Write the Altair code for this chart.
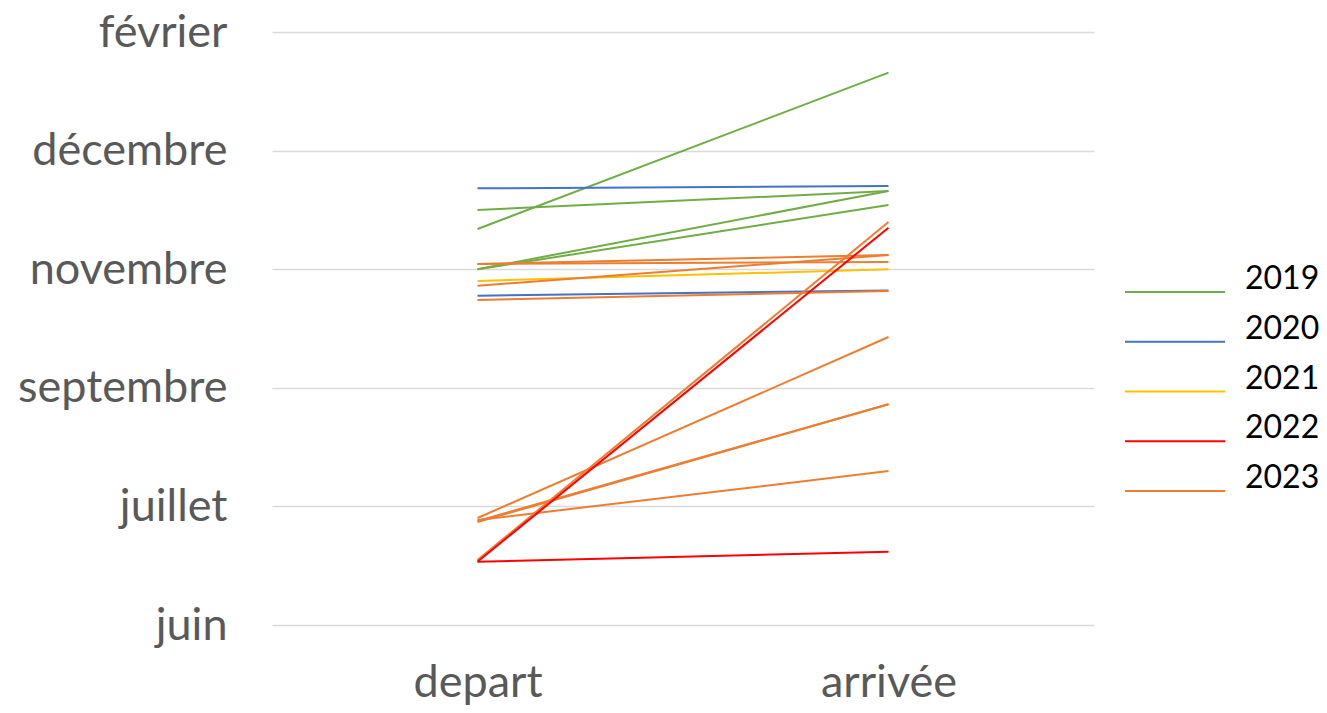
import altair as alt
import pandas as pd

# y values: 0 = juin, 1 = juillet, 2 = septembre, 3 = novembre, 4 = décembre, 5 = février
tick_values = [0, 1, 2, 3, 4, 5]
tick_labels = ["juin", "juillet", "septembre", "novembre", "décembre", "février"]
stages = ["depart", "arrivée"]
years_legend = ["2019", "2020", "2021", "2022", "2023"]
colors = ["#70AD47", "#4472C4", "#FFC000", "#FF0000", "#ED7D31"]

line_year = ["2019", "2019", "2019", "2019",
             "2020", "2020",
             "2021",
             "2023", "2023", "2023", "2023", "2023", "2023", "2023", "2023", "2023",
             "2022", "2022"]
depart = [3.339, 3.499, 2.999, 2.999,
          3.682, 2.777,
          2.901,
          3.044, 3.044, 2.861, 2.740, 0.902, 0.877, 0.868, 0.885, 0.548,
          0.534, 0.534]
arrivee = [4.657, 3.659, 3.659, 3.541,
           3.702, 2.820,
           2.999,
           3.120, 3.061, 3.120, 2.816, 2.428, 1.861, 1.861, 1.298, 3.398,
           3.350, 0.618]

rows = []
for i, (yr, d, a) in enumerate(zip(line_year, depart, arrivee)):
    rows.append({"id": i, "year": yr, "stage": stages[0], "value": d, "order": i})
    rows.append({"id": i, "year": yr, "stage": stages[1], "value": a, "order": i})
df = pd.DataFrame(rows)
legend_df = pd.DataFrame({"year": years_legend})

label_expr = "[" + ",".join(f"'{t}'" for t in tick_labels) + "][datum.value]"
color_scale = alt.Scale(domain=years_legend, range=colors)

lines = alt.Chart(df).mark_line(strokeWidth=2).encode(
    x=alt.X("stage:N", sort=stages,
            scale=alt.Scale(type="point", padding=0.5),
            axis=alt.Axis(title=None, labelAngle=0, labelFont="Lato", labelFontSize=45,
                          labelColor="#595959", ticks=False, domain=False, grid=False,
                          labelPadding=35, labelLimit=0)),
    y=alt.Y("value:Q", scale=alt.Scale(domain=[0, 5], nice=False, zero=False),
            axis=alt.Axis(title=None, values=tick_values, labelExpr=label_expr,
                          labelFont="Lato", labelFontSize=45, labelColor="#595959",
                          ticks=False, domain=False, grid=True, gridColor="#D9D9D9",
                          gridWidth=1.5, labelPadding=45, labelLimit=0)),
    color=alt.Color("year:N", scale=color_scale, legend=None),
    detail="id:N",
    order="order:Q",
)

legend_y = alt.Y("year:N", sort=years_legend, axis=None,
                 scale=alt.Scale(type="point", domain=years_legend, range=[260, 459], padding=0))

legend_lines = alt.Chart(legend_df).mark_rule(strokeWidth=2).encode(
    x=alt.value(853), x2=alt.value(953),
    y=legend_y,
    color=alt.Color("year:N", scale=color_scale, legend=None),
)

legend_text = alt.Chart(legend_df).mark_text(
    align="left", baseline="alphabetic", dy=-3, font="Lato", fontSize=32, color="black"
).encode(
    x=alt.value(973),
    y=legend_y,
    text="year:N",
)

chart = alt.layer(lines, legend_lines, legend_text).resolve_scale(
    y="independent"
).properties(
    width=822, height=593,
    autosize=alt.AutoSizeParams(type="none"),
    padding={"left": 264, "top": 24, "right": 225, "bottom": 80},
).configure_view(stroke=None)

chart.save("out.html", embed_options={"renderer": "svg", "actions": False})
